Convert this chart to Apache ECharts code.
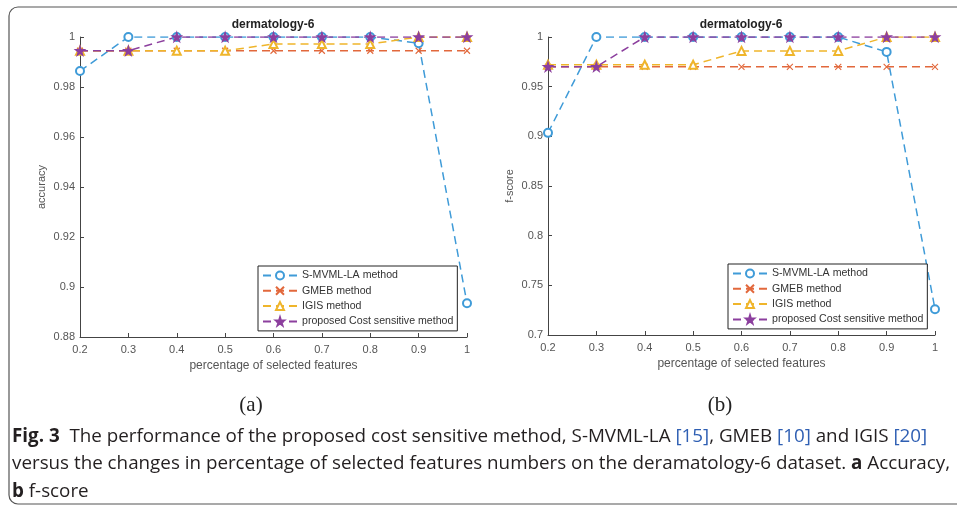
<!DOCTYPE html>
<html>
<head>
<meta charset="utf-8">
<script src="https://cdn.jsdelivr.net/npm/echarts@6/dist/echarts.min.js"></script>
<style>
html,body{margin:0;padding:0;background:#fff;}
#chart{width:957px;height:510px;}
</style>
</head>
<body>
<div id="chart"></div>
<script>
// ---- data ----
const xValues = [0.2, 0.3, 0.4, 0.5, 0.6, 0.7, 0.8, 0.9, 1];
const seriesNames = ['S-MVML-LA method', 'GMEB method', 'IGIS method', 'proposed Cost sensitive method'];
// (a) accuracy
const accSMVML = [0.9864, 1, 1, 1, 1, 1, 1, 0.9975, 0.8935];
const accGMEB = [0.9945, 0.9945, 0.9945, 0.9945, 0.9945, 0.9945, 0.9945, 0.9945, 0.9945];
const accIGIS = [0.9945, 0.9945, 0.9945, 0.9945, 0.9972, 0.9972, 0.9972, 1, 1];
const accProposed = [0.9945, 0.9945, 1, 1, 1, 1, 1, 1, 1];
// (b) f-score
const fSMVML = [0.9035, 1, 1, 1, 1, 1, 1, 0.985, 0.726];
const fGMEB = [0.97, 0.97, 0.97, 0.97, 0.97, 0.97, 0.97, 0.97, 0.97];
const fIGIS = [0.972, 0.972, 0.972, 0.972, 0.986, 0.986, 0.986, 1, 1];
const fProposed = [0.97, 0.97, 1, 1, 1, 1, 1, 1, 1];
const chartTitles = ['dermatology-6', 'dermatology-6'];
const yNames = ['accuracy', 'f-score'];
const xName = 'percentage of selected features';
const panelLabels = ['(a)', '(b)'];

// ---- styling ----
const colors = ['#3f9bd8', '#e2683c', '#efb52b', '#8c3f9e'];
const symbols = [
  'emptyCircle',
  'path://M0,0 L10,10 M10,0 L0,10',
  'emptyTriangle',
  'path://M50,0 L61,35 L98,35 L68,57 L79,91 L50,70 L21,91 L32,57 L2,35 L39,35 Z'
];
const symbolSizes = [8, 6, 8, 9];
const font = '"Liberation Sans", Arial, sans-serif';
const axisColor = '#444';

function pairs(vals) { return xValues.map((x, i) => [x, vals[i]]); }

function makeSeries(dataSets, gi) {
  return dataSets.map((vals, k) => ({
    name: seriesNames[k],
    type: 'line',
    xAxisIndex: gi, yAxisIndex: gi,
    data: pairs(vals),
    symbol: symbols[k],
    symbolSize: symbolSizes[k],
    showAllSymbol: true,
    color: colors[k],
    lineStyle: { color: colors[k], width: 1.5, type: [8, 5] },
    itemStyle: { color: colors[k], borderColor: colors[k], borderWidth: k === 1 ? 1.1 : 1.3 },
    emphasis: { disabled: true },
    animation: false
  }));
}

const grids = [
  { left: 80, top: 37, width: 387, height: 300 },
  { left: 548, top: 37, width: 387, height: 298 }
];

function xAxis(gi) {
  return {
    type: 'value', gridIndex: gi, min: 0.2, max: 1, interval: 0.1,
    name: xName, nameLocation: 'middle', nameGap: 23,
    nameTextStyle: { fontFamily: font, fontSize: 12, color: '#555' },
    axisLine: { lineStyle: { color: axisColor, width: 1 } },
    axisTick: { inside: true, length: 4, lineStyle: { color: axisColor } },
    axisLabel: { fontFamily: font, fontSize: 11, color: '#555', margin: 7,
      formatter: v => String(parseFloat(v.toFixed(2))) },
    splitLine: { show: false }
  };
}
function yAxis(gi, min, interval) {
  return {
    type: 'value', gridIndex: gi, min: min, max: 1, interval: interval,
    name: yNames[gi], nameLocation: 'middle', nameGap: 33, nameRotate: 90,
    nameTextStyle: { fontFamily: font, fontSize: 11, color: '#555' },
    axisLine: { show: true, lineStyle: { color: axisColor, width: 1 } },
    axisTick: { show: true, inside: true, length: 4, lineStyle: { color: axisColor } },
    axisLabel: { fontFamily: font, fontSize: 11, color: '#555', margin: 5,
      formatter: v => String(parseFloat(v.toFixed(2))) },
    splitLine: { show: false }
  };
}
function legend(left, top) {
  return {
    orient: 'vertical', left: left, top: top,
    data: seriesNames,
    borderColor: '#222', borderWidth: 1, borderRadius: 0,
    padding: [4, 4, 4, 4], itemGap: 4.3, itemWidth: 34, itemHeight: 10,
    backgroundColor: '#fff',
    textStyle: { fontFamily: font, fontSize: 10.6, color: '#333' },
    selectedMode: false
  };
}

// caption font size fitted so the second caption line spans the reference width
const blue = '#2f5fb3';
const capFont = '"Open Sans", "Noto Sans", sans-serif';
const caption2Plain = 'versus the changes in percentage of selected features numbers on the deramatology-6 dataset. a Accuracy,';
const measureCtx = document.createElement('canvas').getContext('2d');
measureCtx.font = '100px ' + capFont;
const capSize = Math.min(20, 100 * 938 / measureCtx.measureText(caption2Plain).width);
const capRich = {
  b: { fontFamily: capFont, fontSize: capSize, fontWeight: 'bold', fill: '#231f20' },
  r: { fontFamily: capFont, fontSize: capSize, fill: blue }
};
const caption1 = '{b|Fig. 3}  The performance of the proposed cost sensitive method, S-MVML-LA {r|[15]}, GMEB {r|[10]} and IGIS {r|[20]}';
const caption2 = 'versus the changes in percentage of selected features numbers on the deramatology-6 dataset. {b|a} Accuracy,';
const caption3 = '{b|b} f-score';
const titleStyle = { fontFamily: font, fontSize: 12, fontWeight: 'bold', color: '#222' };

const chart = echarts.init(document.getElementById('chart'), null, { renderer: 'canvas' });
chart.setOption({
  animation: false,
  backgroundColor: '#fff',
  title: [
    { text: chartTitles[0], left: 273, top: 19, textAlign: 'center', padding: 0, textStyle: titleStyle },
    { text: chartTitles[1], left: 741, top: 19, textAlign: 'center', padding: 0, textStyle: titleStyle }
  ],
  grid: grids,
  xAxis: [xAxis(0), xAxis(1)],
  yAxis: [yAxis(0, 0.88, 0.02), yAxis(1, 0.7, 0.05)],
  legend: [legend(258, 266), legend(728, 264)],
  series: makeSeries([accSMVML, accGMEB, accIGIS, accProposed], 0)
    .concat(makeSeries([fSMVML, fGMEB, fIGIS, fProposed], 1)),
  graphic: [
    { type: 'rect', shape: { x: 9, y: 7, width: 1000, height: 497, r: 9 }, silent: true, z: -10,
      style: { fill: 'none', stroke: '#555', lineWidth: 1.2 } },
    { type: 'text', x: 251, y: 405, silent: true,
      style: { text: panelLabels[0], fontFamily: '"Liberation Serif", "Times New Roman", serif', fontSize: 21, fill: '#222', align: 'center', verticalAlign: 'middle' } },
    { type: 'text', x: 720, y: 405, silent: true,
      style: { text: panelLabels[1], fontFamily: '"Liberation Serif", "Times New Roman", serif', fontSize: 21, fill: '#222', align: 'center', verticalAlign: 'middle' } },
    { type: 'text', x: 12, y: 437, silent: true,
      style: { text: caption1, rich: capRich, fontFamily: capFont, fontSize: capSize, fill: '#231f20', verticalAlign: 'middle' } },
    { type: 'text', x: 12, y: 464, silent: true,
      style: { text: caption2, rich: capRich, fontFamily: capFont, fontSize: capSize, fill: '#231f20', verticalAlign: 'middle' } },
    { type: 'text', x: 12, y: 492, silent: true,
      style: { text: caption3, rich: capRich, fontFamily: capFont, fontSize: capSize, fill: '#231f20', verticalAlign: 'middle' } }
  ]
});
</script>
</body>
</html>
